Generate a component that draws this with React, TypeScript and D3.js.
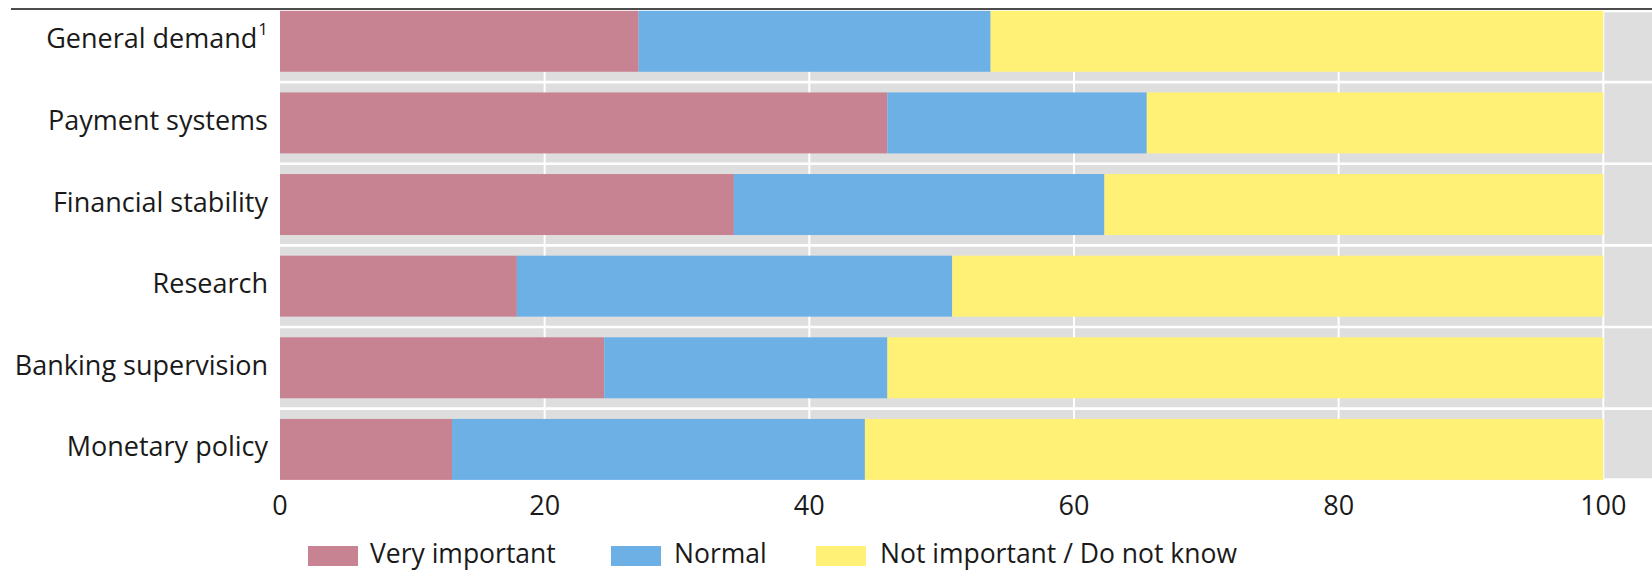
import React from "react";
import * as d3 from "d3";

const categories = [
  "General demand",
  "Payment systems",
  "Financial stability",
  "Research",
  "Banking supervision",
  "Monetary policy",
];
const veryImportant = [27.1, 45.9, 34.3, 17.9, 24.5, 13.0];
const normal = [26.6, 19.6, 28.0, 32.9, 21.4, 31.2];
const notImportant = [46.3, 34.5, 37.7, 49.2, 54.1, 55.8];
const seriesNames = ["Very important", "Normal", "Not important / Do not know"];
const xTicks = [0, 20, 40, 60, 80, 100];

const colors = ["#C88392", "#6CB0E6", "#FFF176"];
const FONT = "'Open Sans', 'Noto Sans', sans-serif";

export default function App() {
  const W = 1652;
  const H = 570;
  const panelLeft = 280;
  const panelTop = 12.3;
  const panelBottom = 478.3;

  const x = d3.scaleLinear().domain([0, 100]).range([280, 1603.3]);
  const y = d3
    .scaleBand<string>()
    .domain(categories)
    .range([10.8, 479.9])
    .paddingInner(0.253)
    .paddingOuter(0);

  const rows = categories.map((c, i) => ({
    cat: c,
    vals: [veryImportant[i], normal[i], notImportant[i]],
  }));
  const stack = d3
    .stack<any>()
    .keys(["0", "1", "2"])
    .value((d: any, k: string) => d.vals[+k]);
  const stacked = stack(rows);

  const step = y.step();
  const boundaries = categories.slice(1).map((c) => (y(c) as number) - (step * 0.253) / 2);

  const legendX = [308, 611, 816];
  const legendTextX = [370, 674, 880];

  return (
    <div style={{ position: "absolute", left: 0, top: 0 }}>
      <svg width={W} height={H} style={{ display: "block" }}>
        <rect x={0} y={0} width={W} height={H} fill="#ffffff" />
        <line x1={11} x2={W} y1={9} y2={9} stroke="#111" strokeWidth={1.4} />
        <rect
          x={panelLeft}
          y={panelTop}
          width={W - panelLeft}
          height={panelBottom - panelTop}
          fill="#DEDEDE"
        />
        {boundaries.map((b, i) => (
          <line key={"h" + i} x1={panelLeft} x2={W} y1={b} y2={b} stroke="#fff" strokeWidth={2.6} />
        ))}
        {xTicks
          .filter((t) => t > 0)
          .map((t) => (
            <line
              key={"v" + t}
              x1={x(t)}
              x2={x(t)}
              y1={panelTop}
              y2={panelBottom}
              stroke="#fff"
              strokeWidth={2}
            />
          ))}
        {stacked.map((s, si) => (
          <g key={"s" + si} fill={colors[si]}>
            {s.map((d: any, i: number) => (
              <rect
                key={i}
                x={x(d[0])}
                width={x(d[1]) - x(d[0])}
                y={y(d.data.cat)}
                height={y.bandwidth()}
              />
            ))}
          </g>
        ))}
        {categories.map((c, i) => {
          const cy = (y(c) as number) + y.bandwidth() / 2;
          return (
            <text
              key={"l" + i}
              x={268}
              y={cy + 7}
              textAnchor="end"
              fontFamily={FONT}
              fontSize={27}
              fill="#1a1a1a"
            >
              {c}
              {i === 0 ? (
                <tspan dx={1} dy={-13} fontSize={17}>
                  1
                </tspan>
              ) : null}
            </text>
          );
        })}
        {xTicks.map((t) => (
          <text
            key={"t" + t}
            x={x(t)}
            y={514.5}
            textAnchor="middle"
            fontFamily={FONT}
            fontSize={27}
            fill="#1a1a1a"
          >
            {t}
          </text>
        ))}
        {seriesNames.map((n, i) => (
          <g key={"lg" + i}>
            <rect x={legendX[i]} y={546} width={50} height={20} fill={colors[i]} />
            <text
              x={legendTextX[i]}
              y={563}
              fontFamily={FONT}
              fontSize={26.5}
              fill="#1a1a1a"
            >
              {n}
            </text>
          </g>
        ))}
      </svg>
    </div>
  );
}
